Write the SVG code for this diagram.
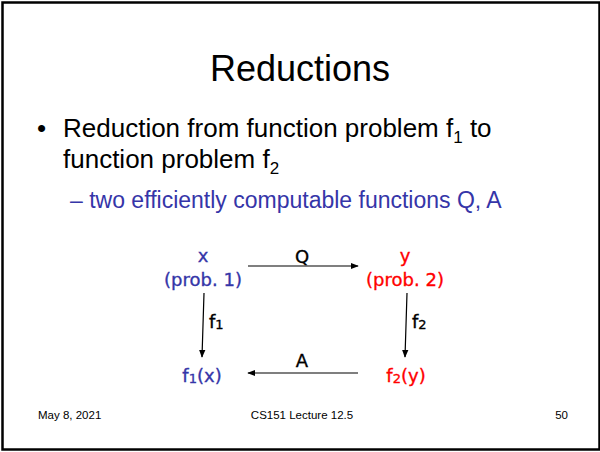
<svg xmlns="http://www.w3.org/2000/svg" width="600" height="452" viewBox="0 0 600 452">
<defs>
<style>
.sans{font-family:"Liberation Sans",Arial,sans-serif;}
.sub{fill:#3535a8;}
.dg{font-family:"DejaVu Sans","Noto Sans",sans-serif;font-size:18px;stroke-width:0.35;}
.blue{fill:#3535a8;stroke:#3535a8;}
.red{fill:#ff0000;stroke:#ff0000;}
.blk{fill:#000;stroke:#000;}
.edge{stroke:#000;stroke-width:1.2;fill:none;marker-end:url(#ah);}
</style>
<marker id="ah" viewBox="0 0 10 10" refX="9" refY="5" markerWidth="8" markerHeight="8" markerUnits="userSpaceOnUse" orient="auto">
<path d="M0,1 L10,5 L0,9 z" fill="#000"/>
</marker>
</defs>
<rect x="0" y="0" width="600" height="452" fill="#fff"/>
<rect x="2.5" y="2.5" width="597" height="447" fill="none" stroke="#000" stroke-width="2.5"/>
<text class="sans" x="300" y="81" font-size="36" text-anchor="middle">Reductions</text>
<text class="sans" x="37" y="137" font-size="26">•</text>
<text class="sans" x="63" y="137" font-size="26">Reduction from function problem f<tspan font-size="17" dy="6">1</tspan><tspan dy="-6"> to</tspan></text>
<text class="sans" x="63" y="168" font-size="26">function problem f<tspan font-size="17" dy="6">2</tspan></text>
<text class="sans sub" x="70" y="208" font-size="23">– two efficiently computable functions Q, A</text>
<g id="connectors">
<line class="edge" x1="248" y1="266" x2="358" y2="266"/>
<line class="edge" x1="358" y1="373" x2="248" y2="373"/>
<line class="edge" x1="204" y1="293" x2="202" y2="357"/>
<line class="edge" x1="407" y1="293" x2="405" y2="357"/>
<text class="dg blk" x="302" y="263" font-size="20" text-anchor="middle">Q</text>
<text class="dg blk" x="302" y="367" font-size="19" text-anchor="middle">A</text>
<text class="dg blk" x="209" y="328">f<tspan font-size="13" dy="1">1</tspan></text>
<text class="dg blk" x="412" y="328">f<tspan font-size="13" dy="1">2</tspan></text>
</g>
<g id="node-x">
<text class="dg blue" x="203" y="262" text-anchor="middle">x</text>
<text class="dg blue" x="203" y="286" text-anchor="middle">(prob. 1)</text>
</g>
<g id="node-y">
<text class="dg red" x="405" y="262" text-anchor="middle">y</text>
<text class="dg red" x="405" y="286" text-anchor="middle">(prob. 2)</text>
</g>
<g id="node-f1x">
<text class="dg blue" x="202" y="382" text-anchor="middle">f<tspan font-size="13" dy="1">1</tspan><tspan dy="-1">(x)</tspan></text>
</g>
<g id="node-f2y">
<text class="dg red" x="406" y="382" text-anchor="middle">f<tspan font-size="13" dy="1">2</tspan><tspan dy="-1">(y)</tspan></text>
</g>
<text class="sans" x="38" y="419" font-size="11.5">May 8, 2021</text>
<text class="sans" x="302" y="419" font-size="11.5" text-anchor="middle">CS151 Lecture 12.5</text>
<text class="sans" x="568" y="419" font-size="11.5" text-anchor="end">50</text>
</svg>
